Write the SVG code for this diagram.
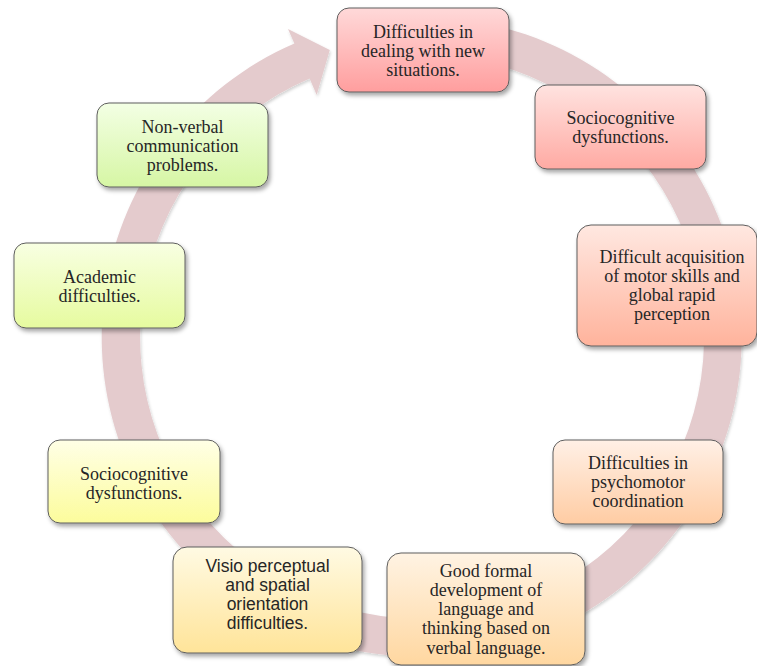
<svg xmlns="http://www.w3.org/2000/svg" width="757" height="666" viewBox="0 0 757 666">
  <defs>
    <filter id="ringShadow" x="-10%" y="-10%" width="120%" height="120%">
      <feDropShadow dx="1" dy="2" stdDeviation="1.5" flood-color="#000" flood-opacity="0.18"/>
    </filter>
    <filter id="boxShadow" x="-10%" y="-10%" width="125%" height="130%">
      <feDropShadow dx="2" dy="3" stdDeviation="2" flood-color="#000" flood-opacity="0.35"/>
    </filter>
    <linearGradient id="g1" x1="0" y1="0" x2="0" y2="1"><stop offset="0" stop-color="#ffd9d9"/><stop offset="1" stop-color="#ff9e9e"/></linearGradient>
    <linearGradient id="g2" x1="0" y1="0" x2="0" y2="1"><stop offset="0" stop-color="#ffe3e0"/><stop offset="1" stop-color="#ffaaa3"/></linearGradient>
    <linearGradient id="g3" x1="0" y1="0" x2="0" y2="1"><stop offset="0" stop-color="#ffe8e1"/><stop offset="1" stop-color="#ffb39c"/></linearGradient>
    <linearGradient id="g4" x1="0" y1="0" x2="0" y2="1"><stop offset="0" stop-color="#fff0e6"/><stop offset="1" stop-color="#ffcca3"/></linearGradient>
    <linearGradient id="g5" x1="0" y1="0" x2="0" y2="1"><stop offset="0" stop-color="#fff3e3"/><stop offset="1" stop-color="#ffd7a0"/></linearGradient>
    <linearGradient id="g6" x1="0" y1="0" x2="0" y2="1"><stop offset="0" stop-color="#fffae3"/><stop offset="1" stop-color="#ffe499"/></linearGradient>
    <linearGradient id="g7" x1="0" y1="0" x2="0" y2="1"><stop offset="0" stop-color="#ffffe6"/><stop offset="1" stop-color="#fcfc9c"/></linearGradient>
    <linearGradient id="g8" x1="0" y1="0" x2="0" y2="1"><stop offset="0" stop-color="#f8ffe2"/><stop offset="1" stop-color="#e6fb9f"/></linearGradient>
    <linearGradient id="g9" x1="0" y1="0" x2="0" y2="1"><stop offset="0" stop-color="#f3ffe4"/><stop offset="1" stop-color="#d6f6a4"/></linearGradient>
  </defs>
  <style>
    .box { stroke: #5e5e5e; stroke-width: 1; filter: url(#boxShadow); }
    .lbl { font-family: "Liberation Serif", "DejaVu Serif", serif; font-size: 18px; fill: #262626; text-anchor: middle; }
    .sans { font-family: "Liberation Sans", "DejaVu Sans", sans-serif; font-size: 17.5px; }
    .ring { fill: #e4cbcd; filter: url(#ringShadow); }
  </style>

  <!-- continuous cycle arrow behind the nodes -->
  <g id="connectors">
    <path class="ring" d="M366.4,21.9 A320,320 0 1 1 294.4,43.5 L288,28.9 L329.8,49.9 L316.7,94.9 L309.6,78.4 A282,282 0 1 0 373,59.3 Z"/>
  </g>

  <g id="n1">
    <rect class="box" x="337" y="8" width="172" height="84" rx="12" fill="url(#g1)"/>
    <text class="lbl" x="423" y="38">Difficulties in</text>
    <text class="lbl" x="423" y="57">dealing with new</text>
    <text class="lbl" x="423" y="76">situations.</text>
  </g>

  <g id="n2">
    <rect class="box" x="535" y="85" width="171" height="84" rx="12" fill="url(#g2)"/>
    <text class="lbl" x="620.5" y="124">Sociocognitive</text>
    <text class="lbl" x="620.5" y="143">dysfunctions.</text>
  </g>

  <g id="n3">
    <rect class="box" x="577" y="225" width="180" height="121" rx="14" fill="url(#g3)"/>
    <text class="lbl" x="672" y="263">Difficult acquisition</text>
    <text class="lbl" x="672" y="282">of motor skills and</text>
    <text class="lbl" x="672" y="301">global rapid</text>
    <text class="lbl" x="672" y="320">perception</text>
  </g>

  <g id="n4">
    <rect class="box" x="553" y="440" width="170" height="84" rx="12" fill="url(#g4)"/>
    <text class="lbl" x="638" y="469">Difficulties in</text>
    <text class="lbl" x="638" y="488">psychomotor</text>
    <text class="lbl" x="638" y="507">coordination</text>
  </g>

  <g id="n5">
    <rect class="box" x="387" y="553" width="198" height="112" rx="14" fill="url(#g5)"/>
    <text class="lbl" x="486" y="577">Good formal</text>
    <text class="lbl" x="486" y="596">development of</text>
    <text class="lbl" x="486" y="615">language and</text>
    <text class="lbl" x="486" y="634">thinking based on</text>
    <text class="lbl" x="486" y="654">verbal language.</text>
  </g>

  <g id="n6">
    <rect class="box" x="173" y="547" width="189" height="106" rx="14" fill="url(#g6)"/>
    <text class="lbl sans" x="267.5" y="572">Visio perceptual</text>
    <text class="lbl sans" x="267.5" y="591">and spatial</text>
    <text class="lbl sans" x="267.5" y="610">orientation</text>
    <text class="lbl sans" x="267.5" y="629">difficulties.</text>
  </g>

  <g id="n7">
    <rect class="box" x="48" y="440" width="172" height="83" rx="12" fill="url(#g7)"/>
    <text class="lbl" x="134" y="480">Sociocognitive</text>
    <text class="lbl" x="134" y="499">dysfunctions.</text>
  </g>

  <g id="n8">
    <rect class="box" x="14" y="243" width="171" height="85" rx="12" fill="url(#g8)"/>
    <text class="lbl" x="99.5" y="283">Academic</text>
    <text class="lbl" x="99.5" y="302">difficulties.</text>
  </g>

  <g id="n9">
    <rect class="box" x="97" y="103" width="171" height="84" rx="12" fill="url(#g9)"/>
    <text class="lbl" x="182.5" y="133">Non-verbal</text>
    <text class="lbl" x="182.5" y="152">communication</text>
    <text class="lbl" x="182.5" y="171">problems.</text>
  </g>
</svg>
